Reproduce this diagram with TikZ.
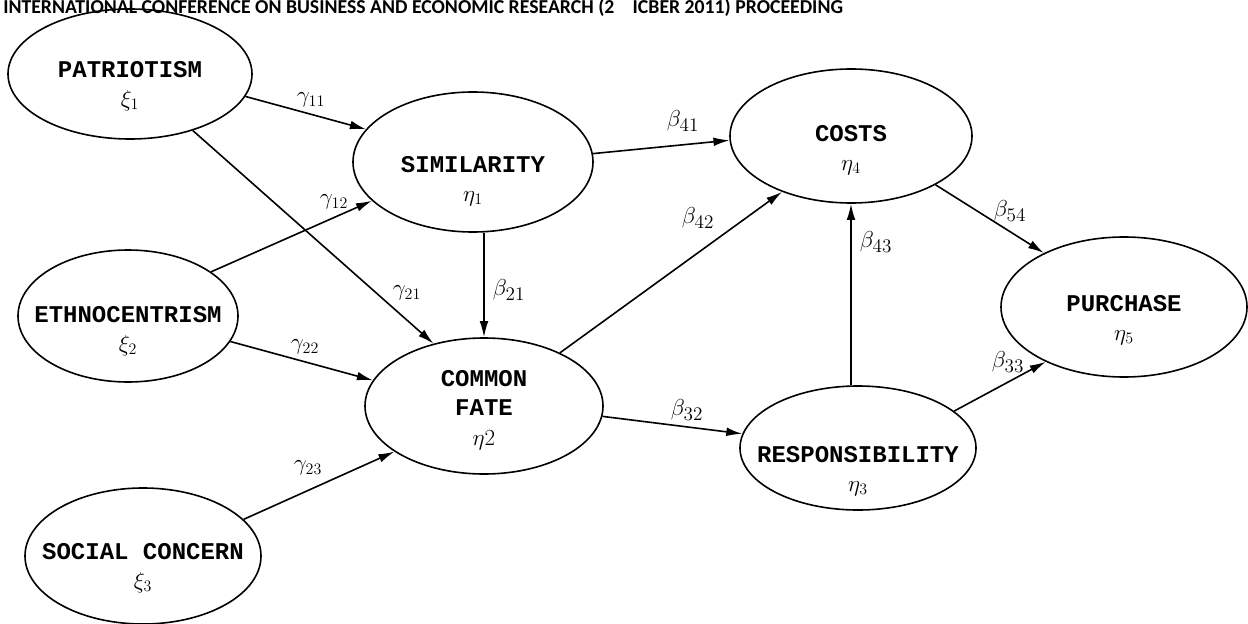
\documentclass[tikz,border=0pt]{standalone}
\usepackage{fontspec}
\newfontfamily\hdr{Carlito}
\newfontfamily\typew{Liberation Mono}
\usetikzlibrary{shapes.geometric,arrows.meta}
\begin{document}
\begin{tikzpicture}[x=0.75pt,y=-0.75pt,
  lv/.style={ellipse,draw,line width=1.2pt,inner sep=0pt},
  nm/.style={font=\typew\bfseries\fontsize{18}{22}\selectfont,align=center,inner sep=0pt},
  glab/.style={font=\fontsize{17}{17}\selectfont,inner sep=0pt},
  blab/.style={font=\fontsize{19}{19}\selectfont,inner sep=0pt},
  arr/.style={line width=1.2pt,-{Latex[length=12pt,width=6.5pt]}}]
\useasboundingbox (0,0) rectangle (1248,624);

\node[anchor=base west,inner sep=0pt,font=\hdr\bfseries\fontsize{14.8}{16}\selectfont] (header) at (3,14)
  {INTERNATIONAL CONFERENCE ON BUSINESS AND ECONOMIC RESEARCH (2\hspace{0.7em} ICBER 2011) PROCEEDING};

% latent variables
\node[lv,minimum width=183pt,minimum height=97.5pt] (pat) at (130,74) {};
\node[lv,minimum width=180pt,minimum height=105pt] (sim) at (473,162) {};
\node[lv,minimum width=181.5pt,minimum height=100.5pt] (cost) at (851,136) {};
\node[lv,minimum width=184.5pt,minimum height=105pt] (pur) at (1124,307) {};
\node[lv,minimum width=165pt,minimum height=99pt] (eth) at (128,316) {};
\node[lv,minimum width=178.5pt,minimum height=102pt] (cf) at (484,406) {};
\node[lv,minimum width=177pt,minimum height=93pt] (resp) at (858,448) {};
\node[lv,minimum width=177pt,minimum height=102pt] (soc) at (143,556) {};

% texts
\node[nm] (patT) at (130,86) {PATRIOTISM\\$\xi_1$};
\node[nm] (simT) at (473,181) {SIMILARITY\\$\eta_1$};
\node[nm] (costT) at (851,150) {COSTS\\$\eta_4$};
\node[nm] (purT) at (1124,320) {PURCHASE\\$\eta_5$};
\node[nm] (ethT) at (128,331) {ETHNOCENTRISM\\$\xi_2$};
\node[nm] (cfT) at (484,410) {COMMON\\FATE\\$\eta2$};
\node[nm] (respT) at (858,471) {RESPONSIBILITY\\$\eta_3$};
\node[nm] (socT) at (143,568) {SOCIAL CONCERN\\$\xi_3$};

% connectors
\draw[arr] (pat.-11.3) -- (sim.163);
\draw[arr] (pat.-42) -- (cf.129);
\draw[arr] (eth.28.4) -- (sim.-159);
\draw[arr] (eth.-14.3) -- (cf.167);
\draw[arr] (soc.20.8) -- (cf.-153.4);
\draw[arr] (sim.south -| cf.north) -- (cf.north);
\draw[arr] (sim.4.8) -- (cost.182.4);
\draw[arr] (cf.35.4) -- (cost.-141.7);
\draw[arr] (cost.south |- resp.north) -- (cost.south);
\draw[arr] (cf.-5.4) -- (resp.173);
\draw[arr] (cost.-30.7) -- (pur.146.8);
\draw[arr] (resp.21.6) -- (pur.-145.2);

% labels
\node[glab] (g11) at (311,100) {$\gamma_{11}$};
\node[glab] (g21) at (407,293) {$\gamma_{21}$};
\node[glab] (g12) at (334,202) {$\gamma_{12}$};
\node[glab] (g22) at (305,347) {$\gamma_{22}$};
\node[glab] (g23) at (308,468) {$\gamma_{23}$};
\node[blab] (b21) at (509,290) {$\beta_{21}$};
\node[blab] (b41) at (683,121) {$\beta_{41}$};
\node[blab] (b42) at (698,218) {$\beta_{42}$};
\node[blab] (b43) at (876,242) {$\beta_{43}$};
\node[blab] (b32) at (687,410) {$\beta_{32}$};
\node[blab] (b54) at (1010,211) {$\beta_{54}$};
\node[blab] (b33) at (1008,362) {$\beta_{33}$};
\end{tikzpicture}
\end{document}
